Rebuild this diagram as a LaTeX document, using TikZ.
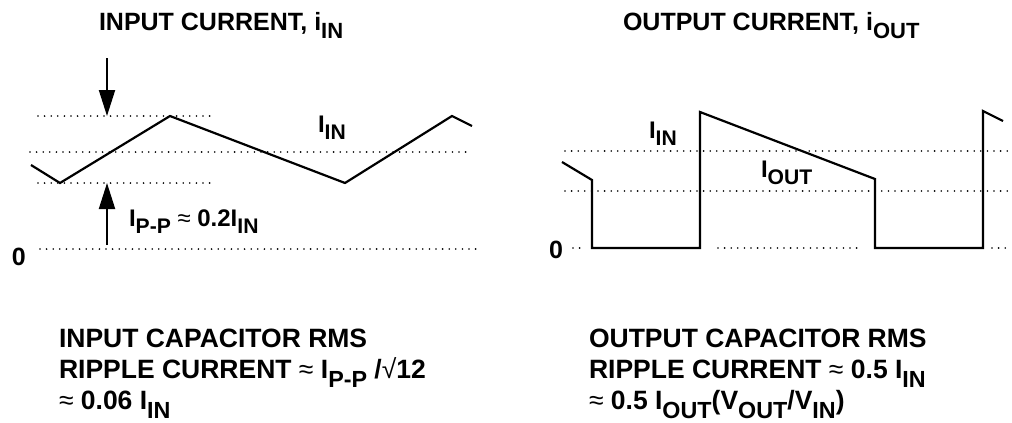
\documentclass[tikz,border=0pt]{standalone}
\usepackage{fontspec}
\usepackage{graphicx}
\setmainfont{Liberation Sans}
\usetikzlibrary{arrows.meta}
\newcommand{\subtxt}[1]{\raisebox{-.33em}{\scalebox{.88}{#1}}}
\tikzset{
  dots/.style={line width=1.8pt,dash pattern=on 0pt off 6.6pt,line cap=round},
  wave/.style={line width=2.2pt,line join=miter},
  head/.style={inner sep=0pt,anchor=base west,font=\fontsize{25}{30}\selectfont\bfseries},
  lbl/.style={inner sep=0pt,anchor=base west,font=\fontsize{24}{28}\selectfont\bfseries},
  zero/.style={inner sep=0pt,anchor=base west,font=\fontsize{25}{28}\selectfont\bfseries},
  note/.style={inner sep=0pt,anchor=north west,align=left,font=\fontsize{26.5}{31}\selectfont\bfseries},
}
\begin{document}
\begin{tikzpicture}[x=1pt,y=-1pt,>={Triangle[length=26pt,width=16pt]},line width=2pt]
  \useasboundingbox (0,0) rectangle (1012,423);
  % input side
  \node[head] (inhead) at (98,30) {INPUT CURRENT, i\subtxt{IN}};
  \draw[dots] (38,116)--(213,116);
  \draw[dots] (30,152)--(470,152);
  \draw[dots] (38,183)--(213,183);
  \draw[dots] (40,249)--(480,249);
  \node[zero] (inzero) at (11,265) {0};
  \coordinate (a1) at (31,165);
  \coordinate (a2) at (60,183);
  \coordinate (a3) at (170,116);
  \coordinate (a4) at (345,183);
  \coordinate (a5) at (452,116);
  \coordinate (a6) at (472,126);
  \draw[wave] (a1)--(a2)--(a3)--(a4)--(a5)--(a6);
  \coordinate (tf) at (107,58);
  \coordinate (tt) at (107,116);
  \coordinate (bf) at (107,245);
  \coordinate (bt) at (107,183);
  \draw[->] (tf)--(tt);
  \draw[->] (bf)--(bt);
  \node[lbl] (inavg) at (317,132) {I\subtxt{IN}};
  \node[lbl] (inpp) at (128,226) {I\subtxt{P-P} {\mdseries ≈} 0.2I\subtxt{IN}};
  % output side
  \node[head] (outhead) at (622,30) {OUTPUT CURRENT, i\subtxt{OUT}};
  \draw[dots] (565,151)--(1008,151);
  \draw[dots] (565,191)--(1008,191);
  \draw[dots] (573,248)--(583,248);
  \draw[dots] (718,248)--(863,248);
  \draw[dots] (992,248)--(1008,248);
  \node[zero] (outzero) at (548,258) {0};
  \coordinate (b1) at (562,162);
  \coordinate (b2) at (592,180);
  \coordinate (b3) at (592,248);
  \coordinate (b4) at (700,248);
  \coordinate (b5) at (700,112);
  \coordinate (b6) at (875,179);
  \coordinate (b7) at (875,248);
  \coordinate (b8) at (983,248);
  \coordinate (b9) at (983,111);
  \coordinate (b10) at (1003,121);
  \draw[wave] (b1)--(b2)--(b3)--(b4)--(b5)--(b6)--(b7)--(b8)--(b9)--(b10);
  \node[lbl] (outin) at (648,138) {I\subtxt{IN}};
  \node[lbl] (outavg) at (760,177) {I\subtxt{OUT}};
  % capacitor notes
  \node[note] (innote) at (58,328) {INPUT CAPACITOR RMS\\RIPPLE CURRENT {\mdseries ≈} I\subtxt{P-P} /{\mdseries √}12\\{\mdseries ≈} 0.06 I\subtxt{IN}};
  \node[note] (outnote) at (588,328) {OUTPUT CAPACITOR RMS\\RIPPLE CURRENT {\mdseries ≈} 0.5 I\subtxt{IN}\\{\mdseries ≈} 0.5 I\subtxt{OUT}(V\subtxt{OUT}/V\subtxt{IN})};
\end{tikzpicture}
\end{document}
